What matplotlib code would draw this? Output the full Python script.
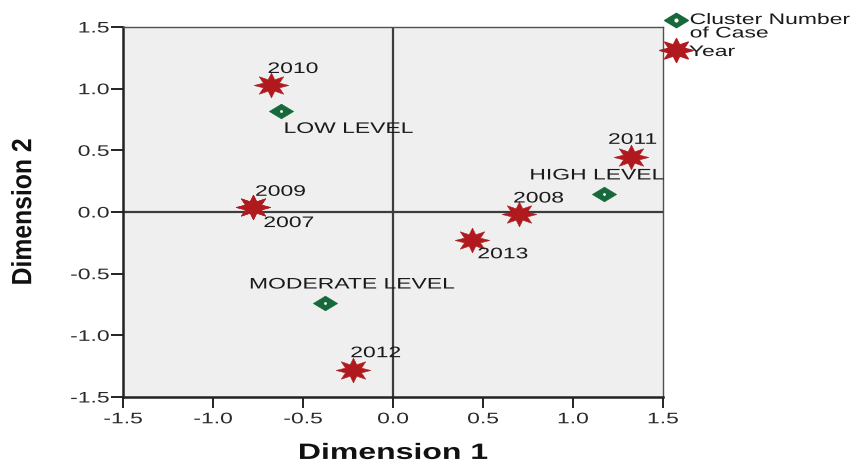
import matplotlib
matplotlib.use("Agg")
import matplotlib.pyplot as plt
from matplotlib.lines import Line2D
from matplotlib.markers import MarkerStyle
from matplotlib.path import Path
from matplotlib.transforms import Affine2D
from matplotlib.patheffects import AbstractPathEffect

plt.rcParams['font.family'] = ['Liberation Sans', 'DejaVu Sans']

# Year points (red stars)
year_labels = ["2010", "2009", "2007", "2012", "2013", "2008", "2011"]
year_x = [-0.68, -0.78, -0.78, -0.22, 0.44, 0.70, 1.32]
year_y = [1.03, 0.04, 0.04, -1.28, -0.23, -0.02, 0.45]

# Cluster points (green diamonds)
cluster_labels = ["LOW LEVEL", "MODERATE LEVEL", "HIGH LEVEL"]
cluster_x = [-0.62, -0.38, 1.17]
cluster_y = [0.82, -0.74, 0.15]

ticks = [-1.5, -1.0, -0.5, 0.0, 0.5, 1.0, 1.5]
tick_labels = ["-1.5", "-1.0", "-0.5", "0.0", "0.5", "1.0", "1.5"]

legend_labels = ["Cluster Number\nof Case", "Year"]

# label offsets in points (dx, dy)
year_offsets = {
    "2010": (-2, 11.5),
    "2009": (2, 11),
    "2007": (8, -11.5),
    "2012": (-2, 12),
    "2013": (4, -10),
    "2008": (-4, 11.5),
    "2011": (-16, 12),
}
cluster_offsets = {
    "LOW LEVEL": (2, -13),
    "MODERATE LEVEL": (-54, 13.5),
    "HIGH LEVEL": (-53, 13),
}

STAR_RED = "#b01a1f"
DIA_GREEN = "#17683a"
TXT = "#1a1a1a"
SX = 1.5  # horizontal stretch of the reference's text


class Stretch(AbstractPathEffect):
    """Stretch text horizontally (along its baseline) about an anchor."""
    def __init__(self, sx, anchor="center"):
        super().__init__()
        self.sx = sx
        self.anchor = anchor

    def draw_path(self, renderer, gc, tpath, affine, rgbFace=None):
        ext = tpath.get_extents()
        if self.anchor == "left":
            cx = ext.x0
        elif self.anchor == "right":
            cx = ext.x1
        else:
            cx = 0.5 * (ext.x0 + ext.x1)
        t = Affine2D().translate(-cx, 0).scale(self.sx, 1).translate(cx, 0) + affine
        renderer.draw_path(gc, tpath, t, rgbFace)


def wide_marker(base, sx):
    ms = MarkerStyle(base)
    p = ms.get_path().transformed(ms.get_transform())
    p = Affine2D().scale(sx, 1).transform_path(p)
    return MarkerStyle(Path(p.vertices, p.codes))


star_m = wide_marker((8, 1, 0), 1.4)
dia_m = wide_marker("D", 1.65)

fig = plt.figure(figsize=(8.59, 4.68), dpi=100)
ax = fig.add_axes([0.1432, 0.1517, 0.6286, 0.7906])
ax.set_facecolor("#efefef")
ax.set_xlim(-1.5, 1.5)
ax.set_ylim(-1.5, 1.5)

ax.axhline(0, color="#3c3c3c", lw=1.6, zorder=1)
ax.axvline(0, color="#3c3c3c", lw=1.6, zorder=1)

ax.scatter(year_x, year_y, marker=star_m, s=620, color=STAR_RED,
           edgecolor=STAR_RED, linewidths=0.4, zorder=3)
ax.scatter(cluster_x, cluster_y, marker=dia_m, s=300, color=DIA_GREEN,
           edgecolor=DIA_GREEN, linewidths=0.5, zorder=3)
ax.scatter(cluster_x, cluster_y, marker="o", s=4, color="white",
           linewidths=0, zorder=4)

for lab, x, y in zip(year_labels, year_x, year_y):
    dx, dy = year_offsets[lab]
    t = ax.annotate(lab, (x, y), xytext=(dx, dy), textcoords="offset points",
                    ha="left", va="center", fontsize=11, color=TXT, zorder=5)
    t.set_path_effects([Stretch(SX, "left")])
for lab, x, y in zip(cluster_labels, cluster_x, cluster_y):
    dx, dy = cluster_offsets[lab]
    t = ax.annotate(lab, (x, y), xytext=(dx, dy), textcoords="offset points",
                    ha="left", va="center", fontsize=11, color=TXT, zorder=5)
    t.set_path_effects([Stretch(SX, "left")])

ax.set_xticks(ticks)
ax.set_xticklabels(tick_labels, fontsize=11, color="#2a2a2a")
ax.set_yticks(ticks)
ax.set_yticklabels(tick_labels, fontsize=11, color="#2a2a2a")
ax.tick_params(axis="x", direction="out", length=8, width=1.4,
               color="#222222", pad=3)
ax.tick_params(axis="y", direction="out", length=9, width=1.4,
               color="#222222", pad=1)
for t in ax.get_xticklabels():
    t.set_path_effects([Stretch(SX, "center")])
for t in ax.get_yticklabels():
    t.set_path_effects([Stretch(SX, "right")])

for side in ["left", "bottom"]:
    ax.spines[side].set_color("#222222")
    ax.spines[side].set_linewidth(1.8)
for side in ["top", "right"]:
    ax.spines[side].set_color("#505050")
    ax.spines[side].set_linewidth(1.0)

xl = ax.set_xlabel("Dimension 1", fontsize=16, fontweight="bold",
                   color="#111111", labelpad=12)
xl.set_path_effects([Stretch(1.44, "center")])
yl = ax.set_ylabel("Dimension 2", fontsize=20, fontweight="bold",
                   color="#111111", labelpad=33)
yl.set_path_effects([Stretch(0.89, "center")])

# Legend (outside the plot, top right)
fig.add_artist(Line2D([676 / 859], [1 - 20 / 468], marker=dia_m,
                      markersize=17, color=DIA_GREEN, linestyle="none",
                      transform=fig.transFigure))
fig.add_artist(Line2D([676 / 859], [1 - 20 / 468], marker="o",
                      markersize=2, color="white", linestyle="none",
                      transform=fig.transFigure))
fig.add_artist(Line2D([676 / 859], [1 - 50 / 468], marker=star_m,
                      markersize=24, color=STAR_RED, linestyle="none",
                      transform=fig.transFigure))
lt1 = fig.text(690 / 859, 1 - 13 / 468, legend_labels[0], ha="left",
               va="top", fontsize=11, color=TXT, linespacing=0.95)
lt1.set_path_effects([Stretch(SX, "left")])
lt2 = fig.text(689 / 859, 1 - 52 / 468, legend_labels[1], ha="left",
               va="center", fontsize=11, color=TXT)
lt2.set_path_effects([Stretch(SX, "left")])

fig.savefig("out.png", dpi=100)
